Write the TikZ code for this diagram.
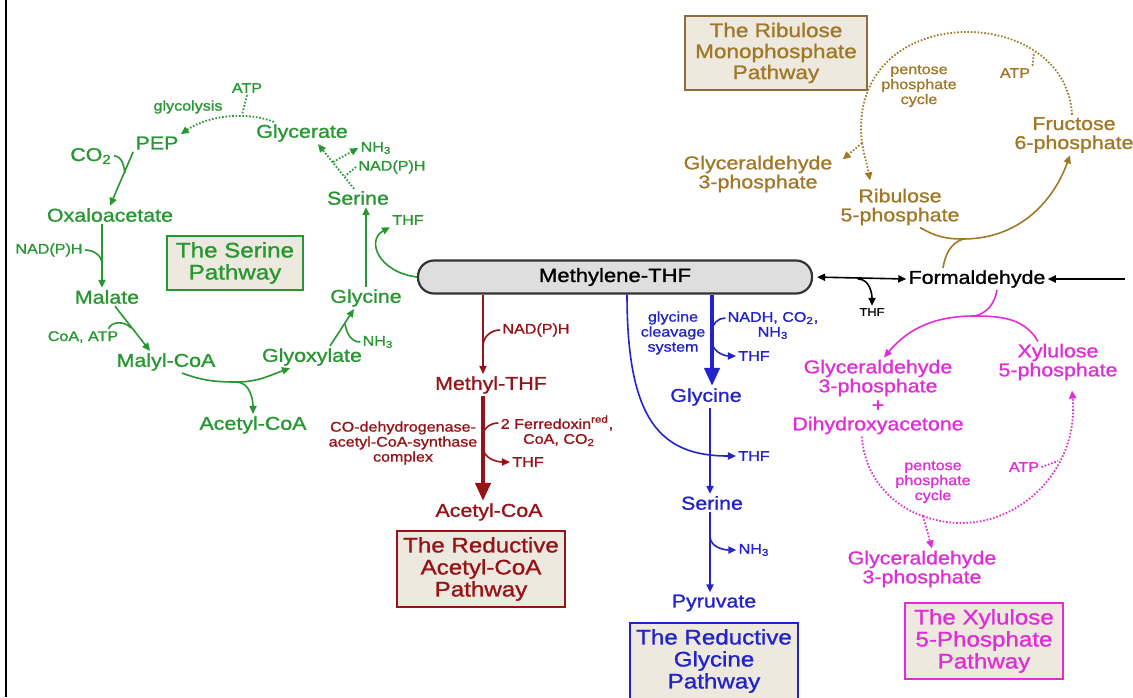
\documentclass[tikz,border=0pt]{standalone}
\usepackage{fontspec}
\setmainfont{Liberation Sans}[FakeStretch=1.15,FakeBold=1.2]
\usetikzlibrary{arrows.meta}
\definecolor{sergreen}{RGB}{40,150,50}
\definecolor{rumpgold}{RGB}{160,120,40}
\definecolor{rumpedge}{RGB}{140,110,60}
\definecolor{acred}{RGB}{150,20,25}
\definecolor{glyblue}{RGB}{35,35,205}
\definecolor{xumag}{RGB}{225,45,215}
\definecolor{boxfill}{RGB}{237,233,222}
\definecolor{mthfgray}{RGB}{222,222,222}

\begin{document}
\begin{tikzpicture}[x=0.5pt,y=-0.5pt,
	metab/.style={font=\fontsize{9.3}{9.5}\selectfont,align=center,inner sep=1pt},
	lbl/.style={font=\fontsize{7}{7.5}\selectfont,align=center,inner sep=1pt},
	tiny/.style={font=\fontsize{5.6}{6}\selectfont,inner sep=1pt},
	pathbox/.style={draw,fill=boxfill,font=\fontsize{10.5}{11}\selectfont,align=center,inner sep=2pt,line width=0.7pt},
	mthfbox/.style={draw=black!80,fill=mthfgray,rounded corners=8pt,line width=1.1pt,minimum width=197pt,minimum height=16.5pt,font=\fontsize{9.6}{10}\selectfont},
	ln/.style={line width=0.8pt},
	rxn/.style={line width=0.8pt,-{Triangle[length=4pt,width=3.6pt]}},
	dots/.style={line width=0.9pt,dash pattern=on 0.8pt off 0.9pt},
	big/.style={line width=2pt,-{Triangle[length=9pt,width=7.5pt]}}]
	\useasboundingbox (0,0) rectangle (1133,697);
	\draw[line width=1.3pt] (6,0) -- (6,697);
	
	\node[mthfbox] (mthf) at (615,277) {Methylene-THF};
	
	\node[lbl,sergreen] (atpg) at (247,88) {ATP};
	\node[lbl,sergreen] (glycolysis) at (188,107) {glycolysis};
	\node[metab,sergreen] (pep) at (157,143) {PEP};
	\node[metab,sergreen] (glycerate) at (302,133) {Glycerate};
	\node[lbl,sergreen] (nh3g) at (376,148) {NH\textsubscript{3}};
	\node[lbl,sergreen] (nadphg) at (392,167) {NAD(P)H};
	\node[metab,sergreen] (co2g) at (91,156) {CO\textsubscript{2}};
	\node[metab,sergreen] (serineg) at (358,198) {Serine};
	\node[lbl,sergreen] (thfg) at (408,220) {THF};
	\node[metab,sergreen] (oxalo) at (110,215) {Oxaloacetate};
	\node[lbl,sergreen] (nadphm) at (49,250) {NAD(P)H};
	\node[pathbox,draw=sergreen,text=sergreen,minimum width=68pt,minimum height=27pt] (serbox) at (235,263) {The Serine\\Pathway};
	\node[metab,sergreen] (malate) at (107,297) {Malate};
	\node[metab,sergreen] (glycineg) at (366,298) {Glycine};
	\node[lbl,sergreen] (coaatp) at (83,337) {CoA, ATP};
	\node[lbl,sergreen] (nh3gb) at (378,342) {NH\textsubscript{3}};
	\node[metab,sergreen] (malyl) at (166,362) {Malyl-CoA};
	\node[metab,sergreen] (glyox) at (312,357) {Glyoxylate};
	\node[metab,sergreen] (acetylg) at (253,425) {Acetyl-CoA};
	
	\coordinate (atpjoin) at (242,115);
	\coordinate (gj1) at (333,162);
	\coordinate (gj2) at (345,176);
	\coordinate (co2join) at (125,173);
	\coordinate (oxjoin) at (102,264);
	\coordinate (coajoin) at (131,328);
	\coordinate (acjoin) at (236,382);
	\coordinate (nhjoin) at (345,324);
	
	\draw[rxn,dots,sergreen] ([xshift=10pt]glycerate.north west) .. controls (250,112) and (210,114) .. (pep.north east);
	\draw[dots,sergreen] (atpg.south) -- (atpjoin);
	\draw[rxn,dots,sergreen] ([xshift=-2pt]serineg.north) -- ([xshift=8pt]glycerate.south);
	\draw[rxn,dots,sergreen] (gj1) -- (nh3g.west);
	\draw[dots,sergreen] (nadphg.west) -- (gj2);
	\draw[rxn,sergreen] (pep.south west) -- (oxalo.north);
	\draw[ln,sergreen] (co2g.east) to[out=0,in=100] (co2join);
	\draw[rxn,sergreen] ([xshift=-4pt]oxalo.south) -- ([xshift=-2.5pt]malate.north);
	\draw[ln,sergreen] (nadphm.east) to[out=0,in=90] (oxjoin);
	\draw[rxn,sergreen] ([xshift=4pt]malate.south) -- ([xshift=-8pt]malyl.north);
	\draw[ln,sergreen] ([xshift=-6pt]coaatp.north east) to[out=70,in=130] (coajoin);
	\draw[ln,sergreen] ([xshift=8pt]malyl.south) to[out=-20,in=180] (acjoin);
	\draw[rxn,sergreen] (acjoin) to[out=0,in=200] ([xshift=-11pt]glyox.south);
	\draw[rxn,sergreen] (acjoin) to[out=0,in=90] (acetylg.north);
	\draw[rxn,sergreen] ([xshift=9pt]glyox.north) -- ([xshift=-6pt]glycineg.south);
	\draw[ln,sergreen] (nh3gb.west) to[out=180,in=-80] (nhjoin);
	\draw[rxn,sergreen] (glycineg.north) -- ([xshift=4pt]serineg.south);
	\draw[rxn,sergreen] (mthf.west) .. controls (378,272) and (366,240) .. (thfg.south west);
	
	\node[metab,acred] (methyl) at (491,385) {Methyl-THF};
	\node[lbl,acred] (nadphr) at (536,330) {NAD(P)H};
	\node[lbl,acred] (codh) at (403,443) {CO-dehydrogenase-\\acetyl-CoA-synthase\\complex};
	\node[lbl,acred] (ferre) at (557,423) {2 Ferredoxin\textsuperscript{red},};
	\node[lbl,acred] (coaco2) at (559,440) {CoA, CO\textsubscript{2}};
	\node[lbl,acred] (thfr) at (528,462) {THF};
	\node[metab,acred] (acetylr) at (489,512) {Acetyl-CoA};
	\node[pathbox,draw=acred,text=acred,minimum width=84pt,minimum height=38pt] (acbox) at (481,569) {The Reductive\\Acetyl-CoA\\Pathway};
	
	\coordinate (rj1) at (483,346);
	\coordinate (rj2) at (483,436);
	\coordinate (rj3) at (483,447);
	
	\draw[rxn,acred] ([xshift=-4pt]methyl.north |- mthf.south) -- ([xshift=-4pt]methyl.north);
	\draw[ln,acred] (nadphr.west) to[out=180,in=90] (rj1);
	\draw[big,acred] ([xshift=-4pt]methyl.south) -- ([xshift=-3pt]acetylr.north);
	\draw[ln,acred] (ferre.west) to[out=180,in=90] (rj2);
	\draw[rxn,acred] (rj3) to[out=-90,in=180] (thfr.west);
	
	\node[lbl,glyblue] (gcs) at (673,333) {glycine\\cleavage\\system};
	\node[lbl,glyblue] (nadh) at (773,318) {NADH, CO\textsubscript{2},};
	\node[lbl,glyblue] (nh3b) at (773,333) {NH\textsubscript{3}};
	\node[lbl,glyblue] (thfb1) at (754,356) {THF};
	\node[metab,glyblue] (glycineb) at (706,397) {Glycine};
	\node[lbl,glyblue] (thfb2) at (754,456) {THF};
	\node[metab,glyblue] (serineb) at (712,503) {Serine};
	\node[lbl,glyblue] (nh3c) at (754,550) {NH\textsubscript{3}};
	\node[metab,glyblue] (pyruvate) at (714,603) {Pyruvate};
	\node[pathbox,draw=glyblue,text=glyblue,minimum width=84pt,minimum height=38pt] (glybox) at (714,661) {The Reductive\\Glycine\\Pathway};
	
	\coordinate (bj1) at (712,331);
	\coordinate (bj2) at (712,341);
	\coordinate (bj3) at (710,536);
	
	\draw[big,glyblue] ([xshift=3pt]glycineb.north |- mthf.south) -- ([xshift=3pt]glycineb.north);
	\draw[ln,glyblue] (nadh.west) to[out=180,in=90] (bj1);
	\draw[rxn,glyblue] (bj2) to[out=-90,in=180] (thfb1.west);
	\draw[rxn,glyblue] ([xshift=6pt]mthf.south) .. controls (627,420) and (660,456) .. (thfb2.west);
	\draw[rxn,glyblue] ([xshift=2pt]glycineb.south) -- ([xshift=-1pt]serineb.north);
	\draw[rxn,glyblue] ([xshift=-1pt]serineb.south) -- ([xshift=-2pt]pyruvate.north);
	\draw[rxn,glyblue] (bj3) to[out=-90,in=180] (nh3c.west);
	
	\node[metab] (formal) at (977,279) {Formaldehyde};
	\node[tiny] (thfk) at (872,312) {THF};
	\coordinate (kj) at (858,279);
	\coordinate (rightin) at (1125,279);
	
	\draw[ln,{Triangle[length=4pt,width=3.6pt]}-{Triangle[length=4pt,width=3.6pt]},shorten <=2pt] (mthf.east) -- (formal.west);
	\draw[rxn] (kj) to[out=0,in=90] (thfk.north);
	\draw[rxn] (rightin) -- (formal.east);
	
	\node[pathbox,draw=rumpedge,text=rumpgold,font=\fontsize{9.8}{10.5}\selectfont,minimum width=91pt,minimum height=37pt] (rumpbox) at (776,53) {The Ribulose\\Monophosphate\\Pathway};
	\node[metab,rumpgold] (gap1) at (758,174) {Glyceraldehyde\\3-phosphate};
	\node[metab,rumpgold] (ru5p) at (900,207) {Ribulose\\5-phosphate};
	\node[metab,rumpgold] (f6p) at (1074,135) {Fructose\\6-phosphate};
	\node[lbl,rumpgold] (ppc1) at (919,86) {pentose\\phosphate\\cycle};
	\node[lbl,rumpgold] (atpr) at (1015,73) {ATP};
	
	\coordinate (rsplit) at (862,143);
	\coordinate (ratpj) at (1034,52);
	\coordinate (rj) at (963,239);
	
	\draw[dots,rumpgold] ([xshift=-1pt]f6p.north) .. controls (1066,0) and (845,0) .. (rsplit);
	\draw[rxn,dots,rumpgold] (rsplit) -- ([xshift=4pt,yshift=-3pt]gap1.north east);
	\draw[rxn,dots,rumpgold] (rsplit) to[out=-80,in=100] ([xshift=-15pt,yshift=3pt]ru5p.north);
	\draw[dots,rumpgold] (atpr.north east) -- (ratpj);
	\draw[ln,rumpgold] ([xshift=10pt]ru5p.south) to[out=-30,in=180] (rj);
	\draw[rxn,rumpgold] (rj) to[out=0,in=-110] ([xshift=-2pt]f6p.south);
	\draw[ln,rumpgold] ([xshift=-17pt]formal.north) to[out=80,in=200] (rj);
	
	\node[metab,xumag] (gapdha) at (878,397) {Glyceraldehyde\\3-phosphate\\+\\Dihydroxyacetone};
	\node[metab,xumag] (xu5p) at (1058,362) {Xylulose\\5-phosphate};
	\node[lbl,xumag] (ppc2) at (933,482) {pentose\\phosphate\\cycle};
	\node[lbl,xumag] (atpx) at (1024,467) {ATP};
	\node[metab,xumag] (gap2) at (922,569) {Glyceraldehyde\\3-phosphate};
	\node[pathbox,draw=xumag,text=xumag,minimum width=79pt,minimum height=38pt] (xubox) at (984,641) {The Xylulose\\5-Phosphate\\Pathway};
	
	\coordinate (mj) at (975,316);
	\coordinate (msplit) at (923,516);
	\coordinate (matpj) at (1058,461);
	
	\draw[ln,xumag] ([xshift=10pt]formal.south) to[out=-100,in=15] (mj);
	\draw[ln,xumag] ([xshift=-10pt]xu5p.north) to[out=120,in=0] (mj);
	\draw[rxn,xumag] (mj) to[out=180,in=50] ([xshift=3pt]gapdha.north);
	\draw[dots,xumag] ([xshift=-8pt]gapdha.south) .. controls (864,475) and (890,505) .. (msplit);
	\draw[rxn,dots,xumag] (msplit) .. controls (1000,545) and (1080,480) .. ([xshift=7pt,yshift=-4pt]xu5p.south);
	\draw[rxn,dots,xumag] (msplit) -- ([xshift=5pt]gap2.north);
	\draw[dots,xumag] (atpx.east) -- (matpj);
\end{tikzpicture}
\end{document}
